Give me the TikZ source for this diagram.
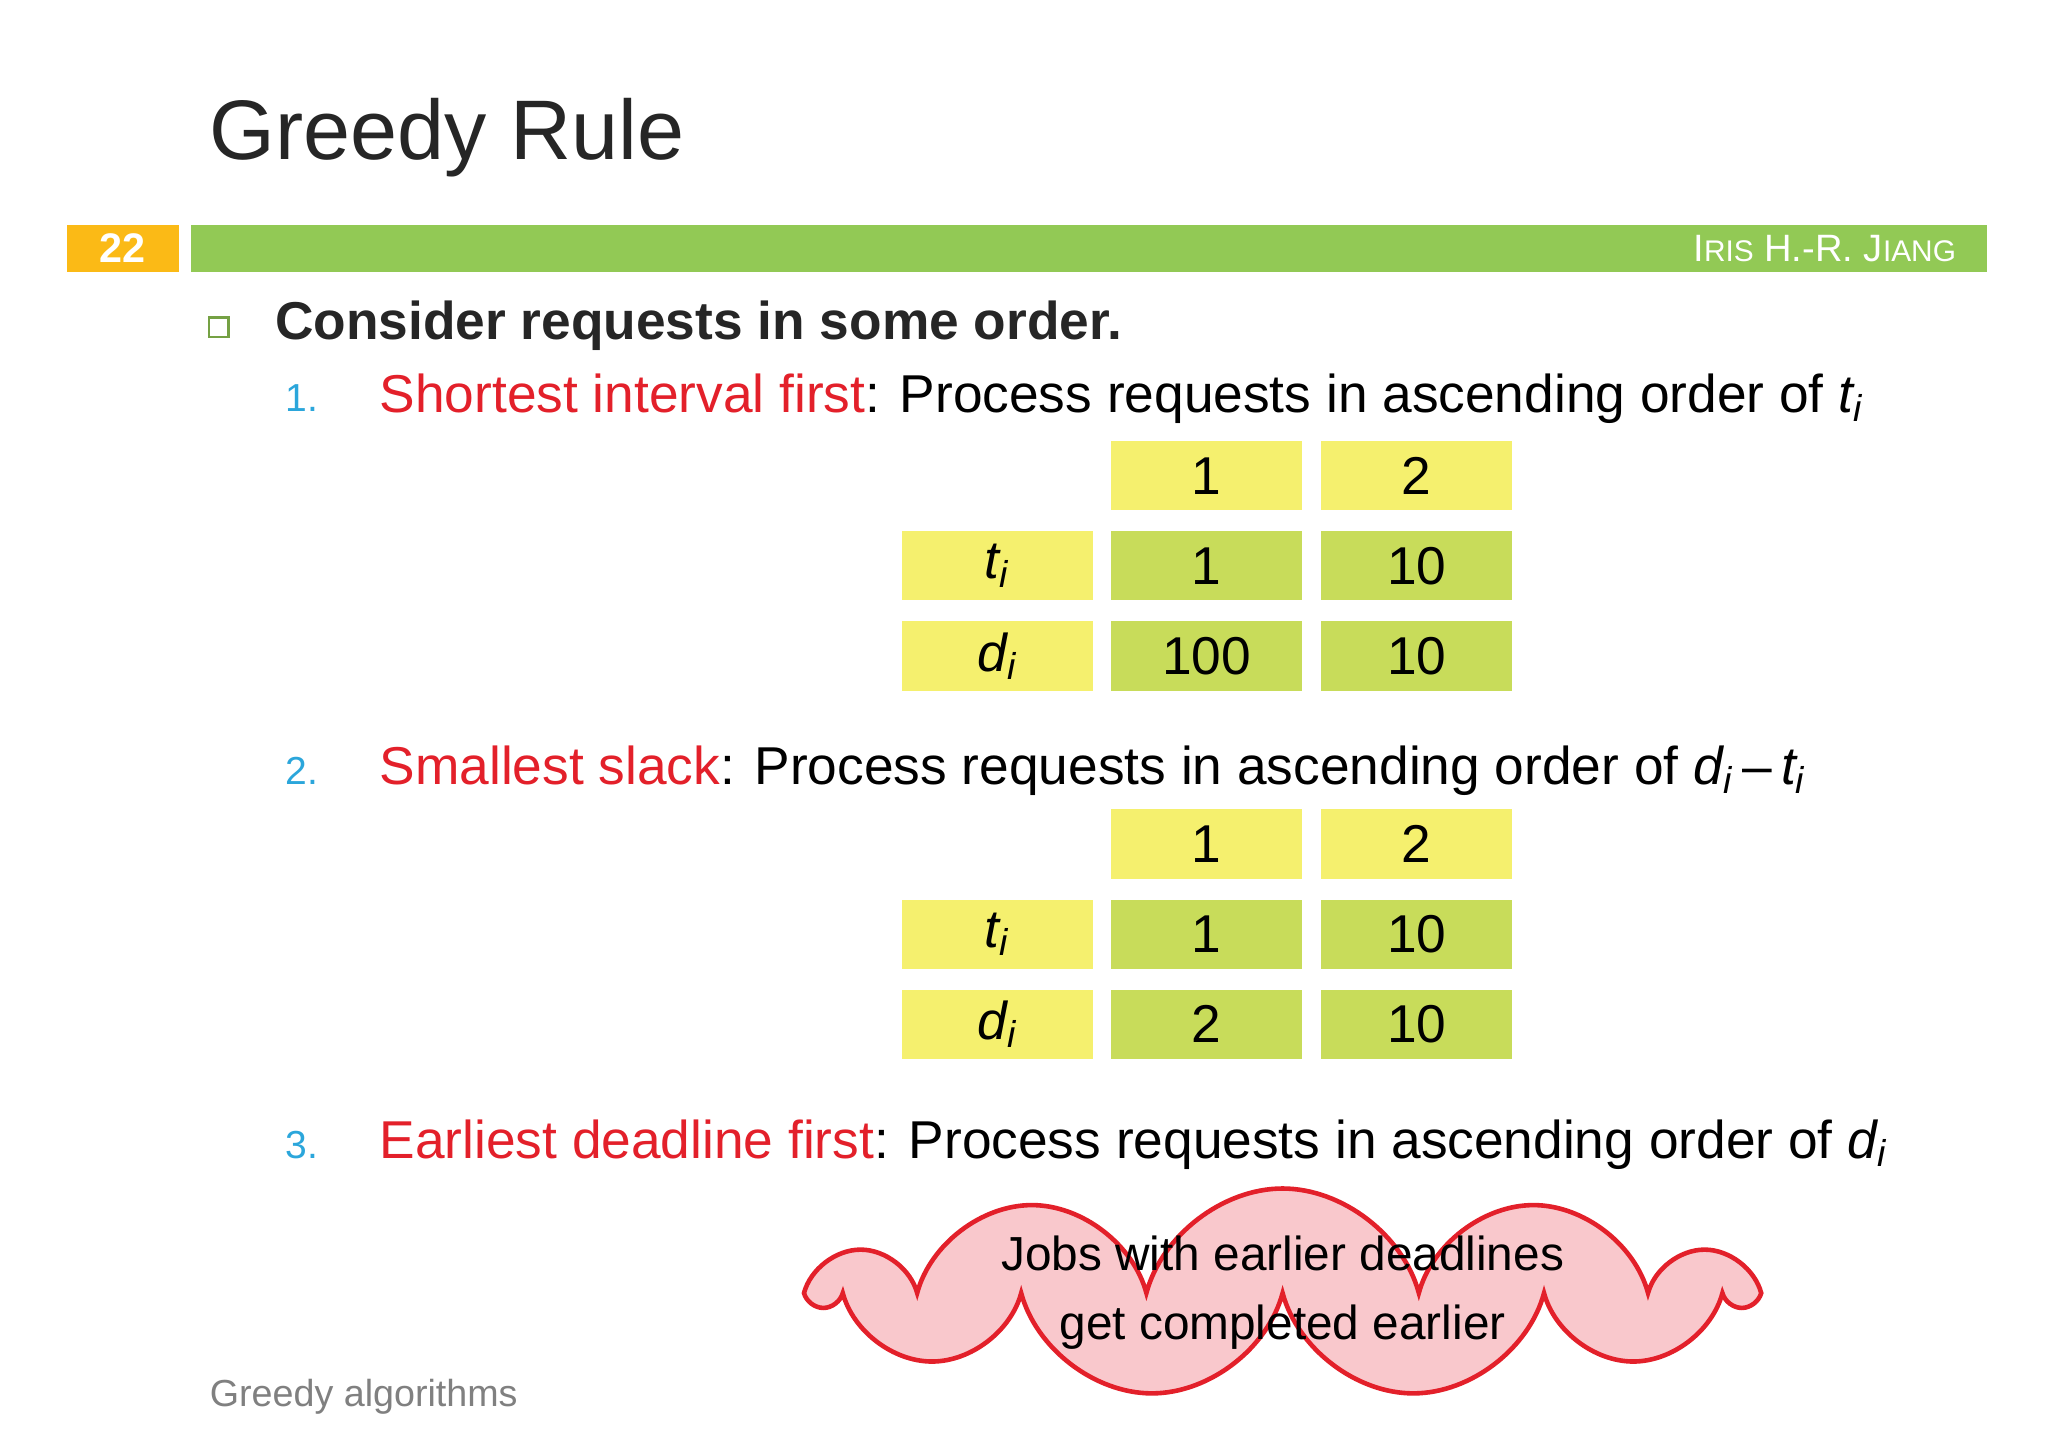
\documentclass[tikz,border=0pt]{standalone}
\usepackage{fontspec}
\setmainfont{Liberation Sans}
\usetikzlibrary{shapes.symbols}
\definecolor{ylw}{HTML}{F5F06E}
\definecolor{grn}{HTML}{C8DC5A}
\definecolor{bar}{HTML}{92C955}
\definecolor{org}{HTML}{FBBA16}
\definecolor{rd}{HTML}{E3202A}
\definecolor{bl}{HTML}{2BA6DB}
\definecolor{pk}{HTML}{F9C8CC}
\tikzset{
 cell/.style={minimum width=1.46cm,minimum height=0.53cm,inner sep=0,font=\fontsize{11.6}{14}\selectfont},
 yc/.style={cell,fill=ylw},
 gc/.style={cell,fill=grn},
 txt/.style={anchor=base west,inner sep=0,font=\fontsize{11.6}{14}\selectfont},
 num/.style={anchor=base west,inner sep=0,text=bl,font=\fontsize{8.5}{10}\selectfont}
}
\begin{document}
\begin{tikzpicture}[x=0.01cm,y=-0.01cm]
\useasboundingbox[fill=white] (0,0) rectangle (1568,1112);
\node[anchor=base west,inner sep=0,font=\fontsize{18.4}{22}\selectfont,text=black!85] (title) at (160,122) {Greedy Rule};
\fill[org] (51,172) rectangle (137,208);
\node[text=white,font=\bfseries\fontsize{9}{11}\selectfont] (pg) at (94,190) {22};
\fill[bar] (146,172) rectangle (1521,208);
\node[anchor=east,text=white,font=\fontsize{8.3}{10}\selectfont] (auth) at (1510,190) {I{\fontsize{6.5}{8}\selectfont RIS} H.-R. J{\fontsize{6.5}{8}\selectfont IANG}};
\draw[bar!80!black,line width=0.6pt] (160,243) rectangle (175,258);
\node[txt,font=\bfseries\fontsize{11.6}{14}\selectfont,text=black!85] (h) at (210,260) {Consider requests in some order.};
\node[num] (n1) at (218,315) {1.};
\node[txt] (l1) at (290,316) {\textcolor{rd}{Shortest interval first}: Process requests in ascending order of \textit{t\textsubscript{i}}};
\foreach \b/\y in {1/337,2/619}{
 \node[yc,anchor=north west] (h1\b) at (850,\y) {1};
 \node[yc,anchor=north west] (h2\b) at (1011,\y) {2};
 \node[yc,anchor=north west] (rt\b) at (690,\y+69) {\textit{t\textsubscript{i}}};
 \node[gc,anchor=north west] (a\b) at (850,\y+69) {1};
 \node[gc,anchor=north west] (b\b) at (1011,\y+69) {10};
 \node[yc,anchor=north west] (rd\b) at (690,\y+138) {\textit{d\textsubscript{i}}};
 \node[gc,anchor=north west] (d2\b) at (1011,\y+138) {10};
}
\node[gc,anchor=north west] (c1) at (850,475) {100};
\node[gc,anchor=north west] (c2) at (850,757) {2};
\node[num] (n2) at (218,601) {2.};
\node[txt] (l2) at (290,601) {\textcolor{rd}{Smallest slack}: Process requests in ascending order of \textit{d\textsubscript{i}}\,–\,\textit{t\textsubscript{i}}};
\node[num] (n3) at (218,887) {3.};
\node[txt] (l3) at (290,887) {\textcolor{rd}{Earliest deadline first}: Process requests in ascending order of \textit{d\textsubscript{i}}};
\node[cloud,cloud puffs=11,cloud ignores aspect,draw=rd,fill=pk,line width=1pt,inner sep=0,minimum width=7.1cm,minimum height=1.6cm] (cl) at (982,990) {};
\node[align=center,font=\fontsize{10.4}{15}\selectfont] (ct) at (cl.center) {Jobs with earlier deadlines\\get completed earlier};
\node[anchor=base west,inner sep=0,text=black!50,font=\fontsize{8.2}{10}\selectfont] (ft) at (160,1077) {Greedy algorithms};
\end{tikzpicture}
\end{document}
